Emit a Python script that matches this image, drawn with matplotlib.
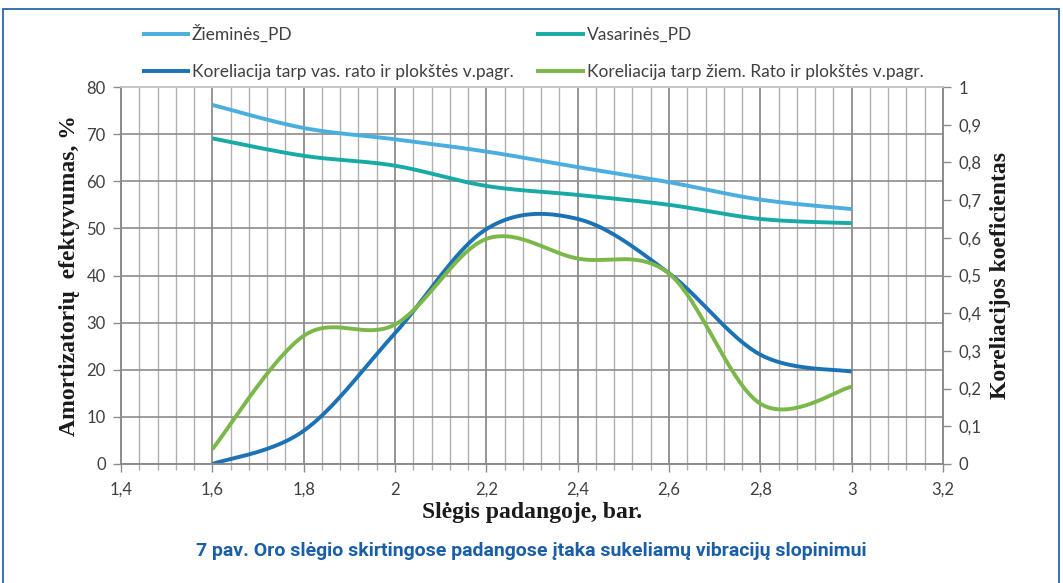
import numpy as np
import matplotlib.pyplot as plt
from matplotlib.ticker import MultipleLocator, FuncFormatter
from matplotlib.patches import Rectangle

# data
pressure = [1.6, 1.8, 2.0, 2.2, 2.4, 2.6, 2.8, 3.0]
ziemines_pd = [76.2, 71.3, 68.9, 66.3, 63.0, 59.8, 56.1, 54.1]
vasarines_pd = [69.1, 65.4, 63.3, 59.0, 57.1, 55.0, 52.0, 51.1]
kor_vas = [0.0, 0.088, 0.347, 0.623, 0.65, 0.506, 0.29, 0.245]
kor_ziem = [0.039, 0.34, 0.37, 0.597, 0.545, 0.505, 0.16, 0.205]

x_ticks = [1.4, 1.6, 1.8, 2.0, 2.2, 2.4, 2.6, 2.8, 3.0, 3.2]
x_labels = ["1,4", "1,6", "1,8", "2", "2,2", "2,4", "2,6", "2,8", "3", "3,2"]

labels = ["Žieminės_PD", "Vasarinės_PD",
          "Koreliacija tarp vas. rato ir plokštės v.pagr.",
          "Koreliacija tarp žiem. Rato ir plokštės v.pagr."]
colors = ["#4aaede", "#18aaa4", "#1b72b4", "#7bb749"]


def smooth(xs, ys, n=40):
    # excel-like smoothed line (cardinal bezier through the points)
    P = np.column_stack([xs, ys]).astype(float)
    out = []
    for i in range(len(P) - 1):
        p0 = P[i]
        p3 = P[i + 1]
        prev = P[i - 1] if i > 0 else P[i]
        nxt = P[i + 2] if i + 2 < len(P) else P[i + 1]
        c1 = p0 + (p3 - prev) / 6.0
        c2 = p3 - (nxt - p0) / 6.0
        t = np.linspace(0, 1, n)[:, None]
        seg = ((1 - t) ** 3 * p0 + 3 * (1 - t) ** 2 * t * c1
               + 3 * (1 - t) * t ** 2 * c2 + t ** 3 * p3)
        out.append(seg if i == 0 else seg[1:])
    out = np.vstack(out)
    return out[:, 0], out[:, 1]


fig = plt.figure(figsize=(10.63, 5.83), dpi=100)
ax = fig.add_axes([121 / 1063, 1 - 464 / 583, 822 / 1063, 377 / 583])
ax2 = ax.twinx()

ax.set_xlim(1.4, 3.2)
ax.set_ylim(0, 80)
ax2.set_ylim(0, 1)

# grid
ax.xaxis.set_major_locator(MultipleLocator(0.2))
ax.xaxis.set_minor_locator(MultipleLocator(0.04))
ax.yaxis.set_major_locator(MultipleLocator(10))
ax2.yaxis.set_major_locator(MultipleLocator(0.1))
ax.grid(which="major", axis="x", color="#8c8c8c", lw=1.3)
ax.grid(which="minor", axis="x", color="#b0b0b0", lw=1.0)
ax.grid(which="major", axis="y", color="#8c8c8c", lw=1.2)
ax.set_axisbelow(True)

for a in (ax, ax2):
    for s in a.spines.values():
        s.set_color("#8c8c8c")
        s.set_linewidth(1.2)
    a.spines["top"].set_color("#c8c8c8")

tick_font = dict(family="Lato", size=12, color="#404040")
ax.set_xticks(x_ticks)
ax.set_xticklabels(x_labels, **tick_font)
ax.yaxis.set_major_formatter(FuncFormatter(lambda v, p: "%d" % v))
ax2.yaxis.set_major_formatter(
    FuncFormatter(lambda v, p: ("%g" % round(v, 1)).replace(".", ",")))
for lab in ax.get_yticklabels() + ax2.get_yticklabels():
    lab.set_fontfamily("Lato")
    lab.set_fontsize(12)
    lab.set_color("#404040")
ax.tick_params(axis="y", length=6, width=1, color="#8c8c8c", pad=5,
               labelsize=12, labelcolor="#404040")
ax2.tick_params(axis="y", length=6, width=1, color="#8c8c8c", pad=5,
                labelsize=12, labelcolor="#404040")
ax.tick_params(axis="x", which="major", length=6, width=1, color="#8c8c8c",
               pad=7)
ax.tick_params(axis="x", which="minor", length=4, width=1, color="#b0b0b0")

# lines
lines = []
for ys, c in zip([ziemines_pd, vasarines_pd], colors[:2]):
    sx, sy = smooth(pressure, ys)
    l, = ax.plot(sx, sy, color=c, lw=2.8, solid_capstyle="butt")
    lines.append(l)
for ys, c in zip([kor_vas, kor_ziem], colors[2:]):
    sx, sy = smooth(pressure, ys)
    l, = ax2.plot(sx, sy, color=c, lw=2.8, solid_capstyle="butt")
    lines.append(l)

serif_bold = dict(family="Liberation Serif", weight="bold", size=17,
                  color="#1a1a1a")
ax.set_xlabel("Slėgis padangoje, bar.", labelpad=3, **serif_bold)
ax.set_ylabel("Amortizatorių  efektyvumas, %", labelpad=5, **serif_bold)
ax2.set_ylabel("Koreliacijos koeficientas", rotation=90, labelpad=6,
               **serif_bold)

# legend, filled row by row
order = [0, 2, 1, 3]
leg = fig.legend([lines[i] for i in order], [labels[i] for i in order],
                 loc="upper left", bbox_to_anchor=(126 / 1063, 1 - 9 / 583),
                 ncol=2, frameon=False, handlelength=2.8, handletextpad=0.1,
                 columnspacing=1.3, labelspacing=1.2,
                 prop=dict(family="Lato", size=12.5))
for t in leg.get_texts():
    t.set_color("#404040")

fig.text(531 / 1063, 1 - 551 / 583,
         "7 pav. Oro slėgio skirtingose padangose įtaka sukeliamų vibracijų slopinimui",
         ha="center", va="center", family="Roboto", weight="bold", size=14,
         color="#1a5ea6")

# blue frame round the figure
fig.patches.append(Rectangle((3 / 1063, -0.05), 1056 / 1063, 1.05 - 9 / 583,
                             transform=fig.transFigure, fill=False,
                             edgecolor="#2a66aa", lw=1.3))

fig.savefig("out.png", dpi=100)
